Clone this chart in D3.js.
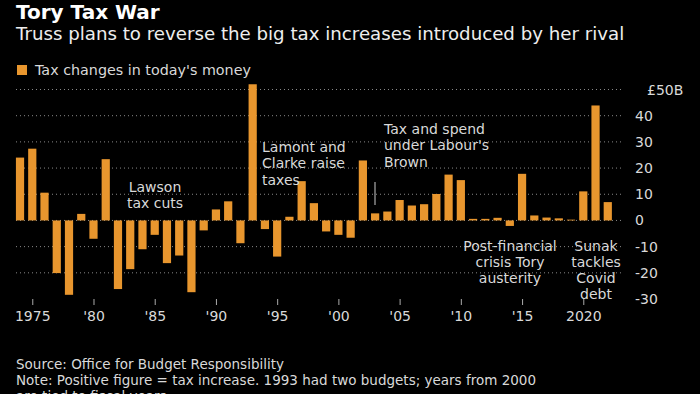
<!DOCTYPE html>
<html>
<head>
<meta charset="utf-8">
<script src="https://cdn.jsdelivr.net/npm/d3@7"></script>
<style>
  html, body { margin: 0; padding: 0; background: #000; }
  svg { display: block; }
  text { font-family: "DejaVu Sans", sans-serif; }
</style>
</head>
<body>
<div id="chart"></div>
<script>
// tax change by year, £bn in today's money (1974-2022)
const YEARS = d3.range(1974, 2023);
const VALUES = [
  24, 27.4, 10.6, -20.1, -28.4, 2.5, -7, 23.4, -26.2, -18.6,
  -11, -5.5, -16.3, -13.4, -27.4, -3.8, 4.2, 7.3, -8.7, 52,
  -3.3, -13.8, 1.4, 15, 6.6, -4.2, -5.5, -6.6, 22.9, 2.7,
  3.4, 7.8, 5.7, 6.2, 10.1, 17.5, 15.4, 0.6, 0.6, 1.0,
  -2.1, 17.8, 1.9, 1.1, 0.8, 0.3, 11.1, 43.9, 7.0
];
const X_TICKS = [1975, 1980, 1985, 1990, 1995, 2000, 2005, 2010, 2015, 2020];
const X_TICK_LABELS = ['1975', "'80", "'85", "'90", "'95", "'00", "'05", "'10", "'15", '2020'];
const Y_TICKS = [-30, -20, -10, 0, 10, 20, 30, 40];
const GRID_TICKS = [-20, -10, 0, 10, 20, 30, 40, 50];

const W = 700, H = 394;
const BAR = '#e8962e';
const TXT = '#d9d9d9';

const svg = d3.select('#chart').append('svg')
    .attr('width', W)
    .attr('height', H);

svg.append('rect').attr('width', W).attr('height', H).attr('fill', '#000');

const x = d3.scaleBand()
    .domain(YEARS)
    .range([13.9, 613.9])
    .paddingInner(0.33)
    .paddingOuter(0.165);

const y = d3.scaleLinear()
    .domain([-30, 50])
    .range([299, 89.5]);

// headline
svg.append('text')
    .attr('x', 16).attr('y', 19)
    .attr('fill', '#fff')
    .attr('font-size', 20)
    .attr('font-weight', 'bold')
    .text('Tory Tax War');

svg.append('text')
    .attr('x', 16).attr('y', 40)
    .attr('fill', '#eee')
    .attr('font-size', 18.2)
    .text('Truss plans to reverse the big tax increases introduced by her rival');

// legend
svg.append('rect')
    .attr('x', 17).attr('y', 65)
    .attr('width', 10).attr('height', 10)
    .attr('fill', BAR);
svg.append('text')
    .attr('x', 35).attr('y', 75)
    .attr('fill', TXT)
    .attr('font-size', 14.3)
    .text("Tax changes in today's money");

// grid
svg.append('g')
  .selectAll('line')
  .data(GRID_TICKS)
  .join('line')
    .attr('x1', 16).attr('x2', 623)
    .attr('y1', d => y(d)).attr('y2', d => y(d))
    .attr('stroke', '#888')
    .attr('stroke-width', 1)
    .attr('stroke-dasharray', '1,3');

// bars
svg.append('g')
  .selectAll('rect')
  .data(YEARS.map((yr, i) => ({yr, v: VALUES[i]})))
  .join('rect')
    .attr('x', d => x(d.yr))
    .attr('width', x.bandwidth())
    .attr('y', d => y(Math.max(0, d.v)))
    .attr('height', d => Math.abs(y(d.v) - y(0)))
    .attr('fill', BAR);

// right axis
const yAxis = svg.append('g')
    .attr('transform', 'translate(635,0)')
    .call(d3.axisRight(y).tickValues(Y_TICKS).tickSize(0).tickPadding(0)
        .tickFormat(d => d < 0 ? '-' + Math.abs(d) : d));
yAxis.select('.domain').remove();
yAxis.selectAll('text')
    .attr('fill', TXT)
    .attr('font-size', 14)
    .attr('font-family', '"DejaVu Sans", sans-serif');

svg.append('text')
    .attr('x', 647).attr('y', y(50) + 5)
    .attr('fill', TXT)
    .attr('font-size', 14)
    .text('£50B');

// bottom axis
const xAxis = svg.append('g')
    .attr('transform', 'translate(0,299)')
    .call(d3.axisBottom(d3.scaleLinear().domain([1974, 2022]).range([x(1974) + x.bandwidth() / 2, x(2022) + x.bandwidth() / 2]))
        .tickValues(X_TICKS)
        .tickSize(6)
        .tickPadding(6)
        .tickFormat((d, i) => X_TICK_LABELS[i]));
xAxis.select('.domain').remove();
xAxis.selectAll('line').attr('stroke', '#aaa');
xAxis.selectAll('text')
    .attr('fill', TXT)
    .attr('font-size', 14)
    .attr('font-family', '"DejaVu Sans", sans-serif');

// annotations
function note(lines, tx, ty, anchor) {
  const t = svg.append('text')
      .attr('x', tx).attr('y', ty)
      .attr('fill', TXT)
      .attr('font-size', 14)
      .attr('text-anchor', anchor);
  lines.forEach((s, i) => {
    t.append('tspan').attr('x', tx).attr('dy', i === 0 ? 0 : 16.3).text(s);
  });
}
note(['Lawson', 'tax cuts'], 155, 191.5, 'middle');
note(['Lamont and', 'Clarke raise', 'taxes'], 262, 152, 'start');
note(['Tax and spend', "under Labour's", 'Brown'], 384, 134, 'start');
note(['Post-financial', 'crisis Tory', 'austerity'], 510, 250.5, 'middle');
note(['Sunak', 'tackles', 'Covid', 'debt'], 596, 250.5, 'middle');

svg.append('line')
    .attr('x1', 375).attr('x2', 375)
    .attr('y1', 182).attr('y2', 205)
    .attr('stroke', '#ccc');

// footer
const foot = svg.append('text')
    .attr('x', 16).attr('y', 369)
    .attr('fill', TXT)
    .attr('font-size', 13.5);
['Source: Office for Budget Responsibility',
 'Note: Positive figure = tax increase. 1993 had two budgets; years from 2000',
 'are tied to fiscal years'].forEach((s, i) => {
  foot.append('tspan').attr('x', 16).attr('dy', i === 0 ? 0 : 16).text(s);
});
</script>
</body>
</html>
